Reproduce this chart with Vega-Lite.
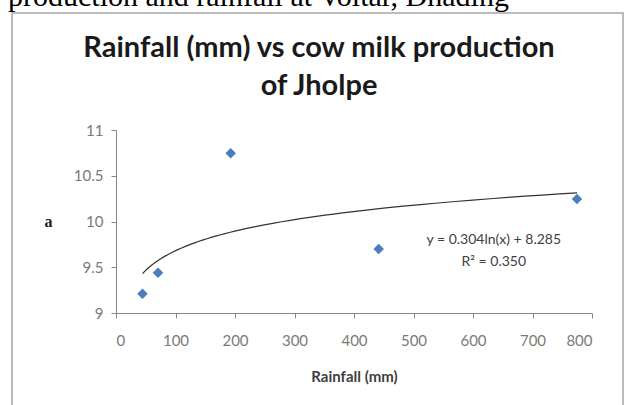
{
  "$schema": "https://vega.github.io/schema/vega-lite/v6.json",
  "width": 476,
  "height": 183,
  "autosize": {"type": "none"},
  "padding": {"left": 116, "top": 130, "right": 38, "bottom": 92},
  "background": "white",
  "config": {
    "view": {"stroke": null},
    "axis": {
      "grid": false,
      "domainColor": "#868686",
      "tickColor": "#868686",
      "tickSize": 5,
      "labelFont": "Lato",
      "labelFontSize": 15,
      "labelColor": "#7a7a7a"
    }
  },
  "data": {
    "values": [
      {"rain": 44.5, "milk": 9.21},
      {"rain": 70.6, "milk": 9.44},
      {"rain": 192.8, "milk": 10.745},
      {"rain": 441.5, "milk": 9.70},
      {"rain": 774.8, "milk": 10.246}
    ]
  },
  "layer": [
    {
      "data": {"values": [{}]},
      "mark": {"type": "rect", "filled": false, "stroke": "#a6a6a6", "strokeWidth": 1.5},
      "encoding": {
        "x": {"datum": -174.8, "type": "quantitative"},
        "x2": {"datum": 852.1},
        "y": {"datum": 12.28, "type": "quantitative"},
        "y2": {"datum": 7.83}
      }
    },
    {
      "data": {"values": [{}]},
      "mark": {"type": "text", "font": "Liberation Serif", "fontSize": 30, "align": "left", "baseline": "alphabetic", "color": "#000000"},
      "encoding": {
        "x": {"datum": -181.5, "type": "quantitative"},
        "y": {"datum": 12.36, "type": "quantitative"},
        "text": {"value": "production and rainfall at Voltar, Dhading"}
      }
    },
    {
      "data": {"values": [{}]},
      "mark": {"type": "text", "font": "Lato", "fontSize": 29, "fontWeight": "bold", "align": "center", "baseline": "alphabetic", "color": "#1a1a1a", "lineHeight": 38},
      "encoding": {
        "x": {"datum": 341.2, "type": "quantitative"},
        "y": {"datum": 11.798, "type": "quantitative"},
        "text": {"value": ["Rainfall (mm) vs cow milk production", "of Jholpe"]}
      }
    },
    {
      "mark": {"type": "point", "shape": "diamond", "filled": true, "size": 110, "color": "#4A7EBB", "opacity": 1},
      "encoding": {
        "x": {
          "field": "rain",
          "type": "quantitative",
          "scale": {"domain": [0, 800], "nice": false},
          "axis": {"values": [0, 100, 200, 300, 400, 500, 600, 700, 800], "title": "Rainfall (mm)", "titleFont": "Lato", "titleFontSize": 15, "titleFontWeight": "bold", "titleColor": "#404040", "labelPadding": 15, "titlePadding": 21}
        },
        "y": {
          "field": "milk",
          "type": "quantitative",
          "scale": {"domain": [9, 11], "nice": false, "zero": false},
          "axis": {"values": [9, 9.5, 10, 10.5, 11], "format": "~g", "labelPadding": 8, "title": "a", "titleAngle": 0, "titleX": -68, "titleY": 91.5, "titleAlign": "center", "titleBaseline": "middle", "titleFont": "Liberation Serif", "titleFontSize": 16, "titleFontWeight": "bold", "titleColor": "#222222"}
        }
      }
    },
    {
      "transform": [{"regression": "milk", "on": "rain", "method": "log"}],
      "mark": {"type": "line", "color": "#333333", "strokeWidth": 1.2},
      "encoding": {
        "x": {"field": "rain", "type": "quantitative"},
        "y": {"field": "milk", "type": "quantitative"}
      }
    },
    {
      "data": {"values": [{}]},
      "mark": {"type": "text", "font": "Lato", "fontSize": 14, "align": "center", "baseline": "middle", "color": "#404040", "lineHeight": 22},
      "encoding": {
        "x": {"datum": 635, "type": "quantitative"},
        "y": {"datum": 9.80, "type": "quantitative"},
        "text": {"value": ["y = 0.304ln(x) + 8.285", "R² = 0.350"]}
      }
    }
  ]
}
